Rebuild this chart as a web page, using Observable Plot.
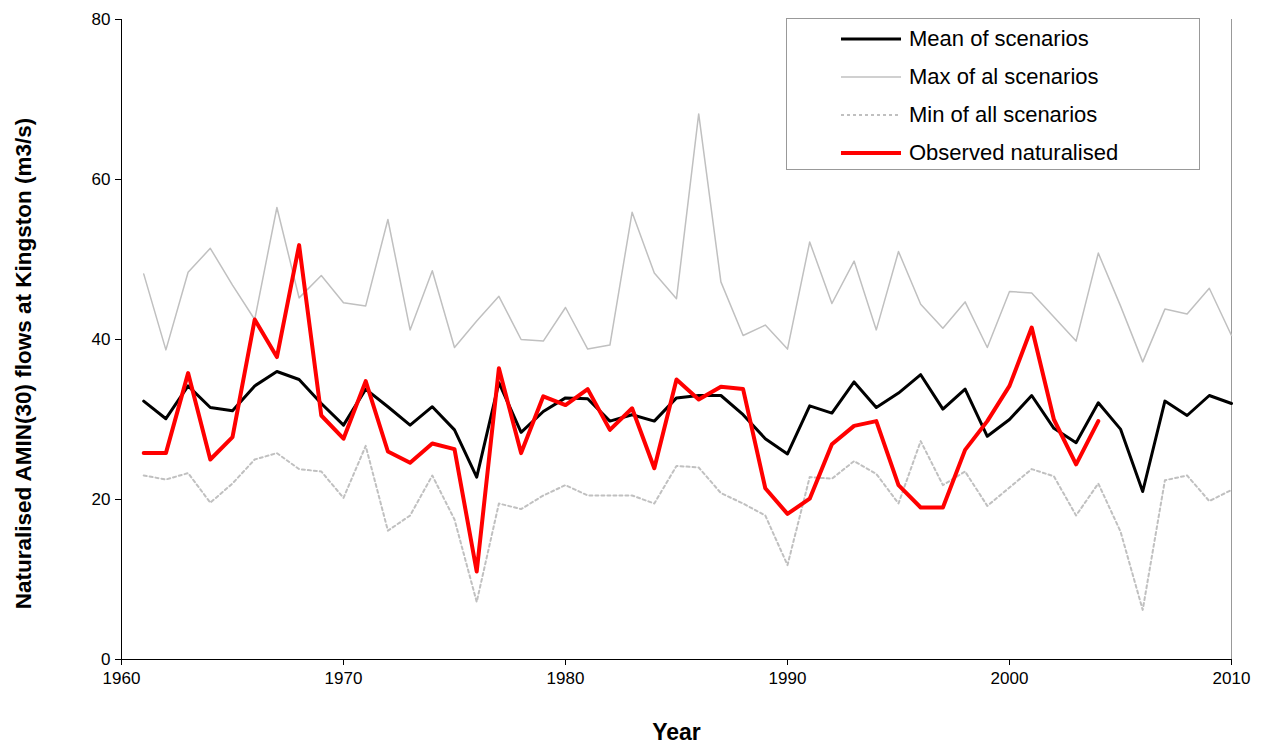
<!DOCTYPE html>
<html><head><meta charset="utf-8">
<script src="https://cdn.jsdelivr.net/npm/d3@7"></script>
<script src="https://cdn.jsdelivr.net/npm/@observablehq/plot@0.6"></script>
<style>
body{margin:0;background:#fff;font-family:"Liberation Sans",Arial,sans-serif;}
#wrap{position:relative;width:1269px;height:745px;}
#legend{position:absolute;left:786px;top:18px;width:414px;height:152px;border:1px solid #999;background:#fff;box-sizing:border-box;font-size:22px;}
.row{position:absolute;left:54px;height:30px;display:flex;align-items:center;}
.row svg{margin-right:8px}
</style></head><body>
<div id="wrap"><div id="chart"></div>
<div id="legend">
<div class="row" style="top:5px"><svg width="60" height="10"><line x1="0" x2="60" y1="5" y2="5" stroke="#000" stroke-width="3"/></svg>Mean of scenarios</div>
<div class="row" style="top:43px"><svg width="60" height="10"><line x1="0" x2="60" y1="5" y2="5" stroke="#c0c0c0" stroke-width="1.5"/></svg>Max of al scenarios</div>
<div class="row" style="top:81px"><svg width="60" height="10"><line x1="0" x2="60" y1="5" y2="5" stroke="#c0c0c0" stroke-width="2" stroke-dasharray="3,3"/></svg>Min of all scenarios</div>
<div class="row" style="top:119px"><svg width="60" height="10"><line x1="0" x2="60" y1="5" y2="5" stroke="#ff0000" stroke-width="4"/></svg>Observed naturalised</div>
</div></div>
<script>
const years = d3.range(1961, 2011);
const meanVals = [32.3,30.1,34.2,31.5,31.1,34.2,36,35,32,29.3,33.8,31.6,29.3,31.6,28.7,22.8,34.6,28.4,31,32.7,32.6,29.8,30.6,29.8,32.7,33,33,30.6,27.6,25.7,31.7,30.8,34.7,31.5,33.3,35.6,31.3,33.8,27.9,30,33,28.9,27.1,32.1,28.8,21,32.3,30.5,33,32];
const maxVals = [48.2,38.7,48.4,51.4,46.8,42.5,56.5,45.2,48,44.6,44.2,55,41.2,48.6,39,42.3,45.4,40,39.8,44,38.8,39.3,55.9,48.3,45.1,68.2,47.2,40.5,41.8,38.8,52.2,44.5,49.8,41.2,51,44.4,41.4,44.7,39,46,45.8,42.8,39.8,50.8,44.2,37.2,43.8,43.2,46.4,40.5];
const minVals = [23,22.5,23.3,19.6,22,25,25.8,23.8,23.5,20.2,26.7,16.1,18,23,17.5,7.2,19.5,18.8,20.5,21.8,20.5,20.5,20.5,19.5,24.2,24,20.8,19.5,18,11.8,22.8,22.6,24.8,23.2,19.5,27.3,21.8,23.5,19.2,21.5,23.8,22.9,18,22,16,6.2,22.4,23,19.8,21.2];
const obsYears = d3.range(1961, 2005);
const obsVals = [25.8,25.8,35.8,25,27.8,42.5,37.8,51.8,30.5,27.6,34.8,26,24.6,27,26.3,11,36.4,25.8,32.9,31.8,33.8,28.7,31.4,23.9,35,32.5,34.1,33.8,21.4,18.2,20.1,26.9,29.2,29.8,21.8,19,19,26.2,29.8,34.2,41.5,30,24.4,29.8];
const xTicks = [1960,1970,1980,1990,2000,2010];
const yTicks = [0,20,40,60,80];
const mk = (ys, vs) => ys.map((y,i)=>({x:y, v:vs[i]}));
const chart = Plot.plot({
  width:1269, height:745,
  marginLeft:121, marginRight:38, marginTop:19, marginBottom:86,
  style:{fontFamily:"Liberation Sans, Arial, sans-serif", fontSize:"17px", background:"#fff"},
  x:{domain:[1960,2010], ticks:xTicks, tickFormat:d=>String(d), label:null},
  y:{domain:[0,80], ticks:yTicks, label:null},
  marks:[
    Plot.ruleX([2010],{stroke:"#999"}),
    Plot.line(mk(years,maxVals),{x:"x",y:"v",stroke:"#c0c0c0",strokeWidth:1.5}),
    Plot.line(mk(years,minVals),{x:"x",y:"v",stroke:"#c0c0c0",strokeWidth:2,strokeDasharray:"3,3"}),
    Plot.line(mk(years,meanVals),{x:"x",y:"v",stroke:"#000",strokeWidth:3}),
    Plot.line(mk(obsYears,obsVals),{x:"x",y:"v",stroke:"#ff0000",strokeWidth:4}),
    Plot.axisX({ticks:xTicks,tickFormat:d=>String(d),tickSize:6,tickPadding:6,label:null,fontSize:17}),
    Plot.axisY({ticks:yTicks,tickSize:6,tickPadding:5,label:null,fontSize:17}),
    Plot.ruleY([0],{stroke:"#000"}),
    Plot.ruleX([1960],{stroke:"#000"}),
    Plot.text(["Year"],{frameAnchor:"bottom",dy:80,fontSize:23,fontWeight:"bold"}),
    Plot.text(["Naturalised AMIN(30) flows at Kingston (m3/s)"],{frameAnchor:"left",textAnchor:"middle",dx:-98,dy:24,rotate:-90,fontSize:22.5,fontWeight:"bold"})
  ]
});
document.getElementById("chart").appendChild(chart);
</script></body></html>
